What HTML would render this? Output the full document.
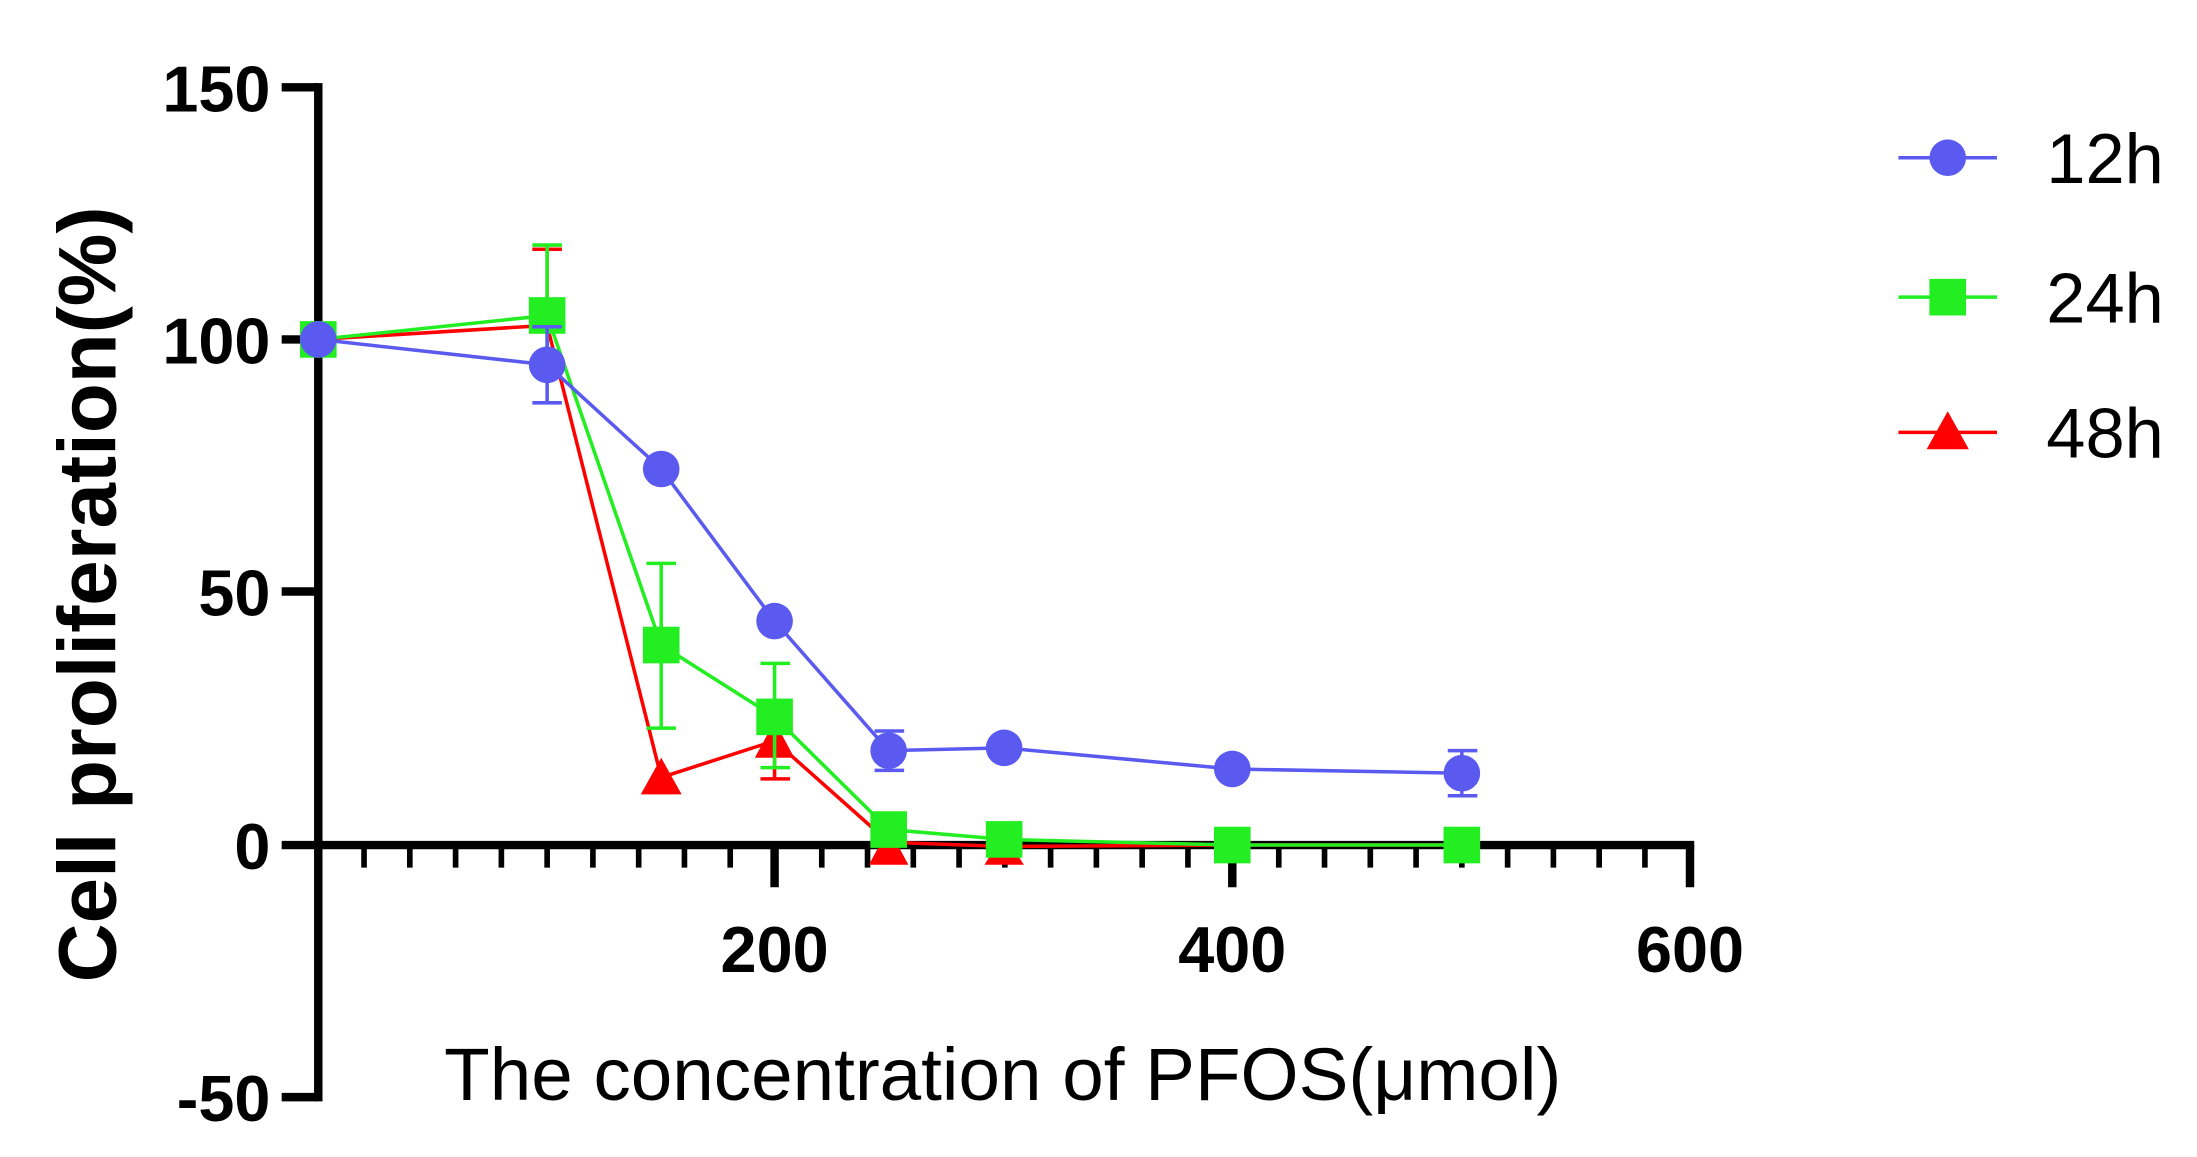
<!DOCTYPE html>
<html><head><style>html,body{margin:0;padding:0;background:#fff}svg{display:block}</style></head><body>
<svg width="2197" height="1157" viewBox="0 0 1560 821.5" preserveAspectRatio="none" xmlns="http://www.w3.org/2000/svg" font-family="Liberation Sans, sans-serif">
<rect width="1560" height="822" fill="#fff"/>
<g stroke="#000" stroke-width="6" fill="none">
<line x1="226" y1="59" x2="226" y2="782"/>
<line x1="223" y1="600" x2="1203" y2="600"/>
<line x1="200" y1="62" x2="226" y2="62"/>
<line x1="200" y1="241" x2="226" y2="241"/>
<line x1="200" y1="420" x2="226" y2="420"/>
<line x1="200" y1="600" x2="226" y2="600"/>
<line x1="200" y1="779" x2="226" y2="779"/>
</g>
<g stroke="#000" stroke-width="4">
<path d="M258.5 600v16M291 600v16M323.5 600v16M356 600v16M388.5 600v16M421 600v16M453.5 600v16M486 600v16M518.5 600v16M583.5 600v16M616 600v16M648.5 600v16M681 600v16M713.5 600v16M746 600v16M778.5 600v16M811 600v16M843.5 600v16M908 600v16M940.5 600v16M973 600v16M1005.5 600v16M1038 600v16M1070.5 600v16M1103 600v16M1135.5 600v16M1168 600v16"/>
</g>
<g stroke="#000" stroke-width="6"><path d="M550 600v30M875 600v30M1200 600v30"/></g>
<g font-weight="bold" font-size="46" text-anchor="end" fill="#000">
<text x="192" y="79">150</text><text x="192" y="258">100</text><text x="192" y="437">50</text><text x="192" y="617">0</text><text x="192" y="796">-50</text>
</g>
<g font-weight="bold" font-size="46" text-anchor="middle" fill="#000">
<text x="550" y="690">200</text><text x="875" y="690">400</text><text x="1200" y="690">600</text>
</g>
<text x="712" y="781" font-size="53" text-anchor="middle">The concentration of PFOS(μmol)</text>
<text transform="translate(82,422) rotate(-90)" font-size="58" font-weight="bold" text-anchor="middle">Cell proliferation(%)</text>
<!-- 48h red -->
<g stroke="#ff0000" stroke-width="2.5" fill="none">
<polyline points="226,241 388.5,231 469.5,552 550,526 631,598 713,601 875,600 1038,600"/>
<path d="M388.5 177v50M378 177h21M550 500v53M540 500h21M540 553h21"/>
</g>
<g fill="#ff0000">
<polygon points="469.5,538 484,564 455,564"/>
<polygon points="550,512 564,538 536,538"/>
<polygon points="631,588 645,614 617,614"/>
<polygon points="713,592 727,614 699,614"/>
</g>
<!-- 24h green -->
<g stroke="#22ee22" stroke-width="2.5" fill="none">
<polyline points="226,241 388.5,224 469.5,458 550,509 631,589 713,596 875,600 1038,600"/>
<path d="M388.5 174v100M378 174h21M469.5 400v117M459 400h21M459 517h21M550 471v74M540 471h21M540 545h21"/>
</g>
<g fill="#22ee22">
<rect x="213" y="228" width="26" height="26"/><rect x="375.5" y="211" width="26" height="26"/>
<rect x="456.5" y="445" width="26" height="26"/><rect x="537" y="496" width="26" height="26"/>
<rect x="618" y="576" width="26" height="26"/><rect x="700" y="583" width="26" height="26"/>
<rect x="862" y="587" width="26" height="26"/><rect x="1025" y="587" width="26" height="26"/>
</g>
<!-- 12h blue -->
<g stroke="#5a5af0" stroke-width="2.5" fill="none">
<polyline points="226,241 388.5,259 469.5,333 550,441 631,533 713,531 875,546 1038,549"/>
<path d="M388.5 232v54M378 232h21M378 286h21M631 519v28M621 519h21M621 547h21M1038 533v32M1028 533h21M1028 565h21"/>
</g>
<g fill="#5a5af0">
<circle cx="226" cy="241" r="13"/><circle cx="388.5" cy="259" r="13"/><circle cx="469.5" cy="333" r="13"/>
<circle cx="550" cy="441" r="13"/><circle cx="631" cy="533" r="13"/><circle cx="713" cy="531" r="13"/>
<circle cx="875" cy="546" r="13"/><circle cx="1038" cy="549" r="13"/>
</g>
<!-- legend -->
<line x1="1348" y1="112" x2="1418" y2="112" stroke="#5a5af0" stroke-width="2.5"/>
<circle cx="1383" cy="112" r="13" fill="#5a5af0"/>
<line x1="1348" y1="211" x2="1418" y2="211" stroke="#22ee22" stroke-width="2.5"/>
<rect x="1370" y="198" width="26" height="26" fill="#22ee22"/>
<line x1="1348" y1="307" x2="1418" y2="307" stroke="#ff0000" stroke-width="2.5"/>
<polygon points="1383,292 1398,319 1368,319" fill="#ff0000"/>
<g font-size="50" fill="#000">
<text x="1453" y="130">12h</text><text x="1453" y="229">24h</text><text x="1453" y="325">48h</text>
</g>
</svg>
</body></html>
